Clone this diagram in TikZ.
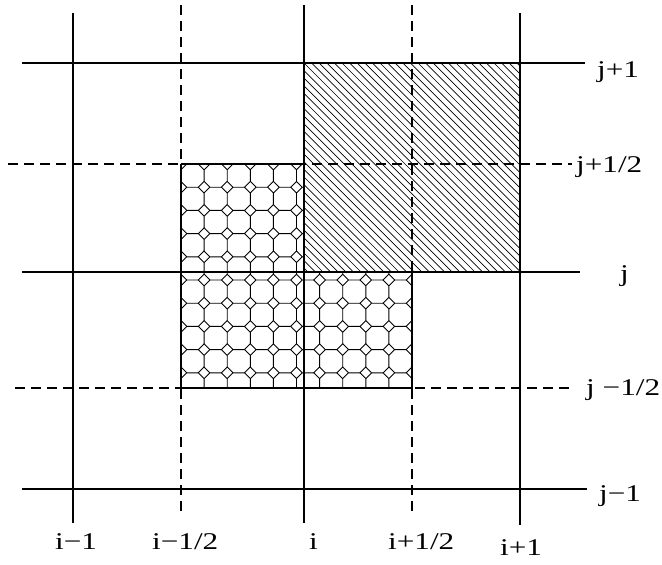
\documentclass[tikz,border=0pt]{standalone}
\usepackage{fontspec}
\setmainfont{Liberation Serif}
\newcommand\widetext[1]{\scalebox{1.3}[1]{#1}}
\begin{document}
\begin{tikzpicture}[x=1pt,y=-1pt,
  gridline/.style={line width=1.1pt,black},
  halfline/.style={line width=1.1pt,black,dash pattern=on 10pt off 6pt},
  border/.style={line width=1.3pt,black},
  oct/.style={line width=0.9pt,black},
  hatch/.style={line width=0.65pt,black},
  lab/.style={anchor=base west,inner sep=0pt,font=\fontsize{24}{28}\selectfont}]
\useasboundingbox (0,0) rectangle (662,565);

% octagon pattern region
\begin{scope}
\clip (181,164) -- (304,164) -- (304,272) -- (412,272) -- (412,388) -- (181,388) -- cycle;
\foreach \k in {0,...,10}{
  \foreach \m in {0,...,10}{
    \pgfmathsetmacro\cx{181+23.1*\k}
    \pgfmathsetmacro\cy{164+23.2*\m}
    \draw[oct] (\cx-5.8,\cy) -- (\cx,\cy-5.8) -- (\cx+5.8,\cy) -- (\cx,\cy+5.8) -- cycle
      (\cx+5.8,\cy) -- (\cx+17.3,\cy)
      (\cx,\cy+5.8) -- (\cx,\cy+17.4);
  }
}
\end{scope}

% hatched region
\begin{scope}
\clip (304,63) rectangle (520,272);
\foreach \k in {-30,...,30}{
  \draw[hatch] ({241+7.6*\k},0) -- ({241+7.6*\k+600},600);
}
\end{scope}

% grid lines
\coordinate (h1a) at (22,63);   \coordinate (h1b) at (585,63);
\coordinate (h2a) at (22,272);  \coordinate (h2b) at (580,272);
\coordinate (h3a) at (22,489);  \coordinate (h3b) at (587,489);
\coordinate (d1a) at (8,164);   \coordinate (d1b) at (572,164);
\coordinate (d2a) at (15,388);  \coordinate (d2b) at (570,388);
\coordinate (v1a) at (73,13);   \coordinate (v1b) at (73,523);
\coordinate (v2a) at (304,5);   \coordinate (v2b) at (304,523);
\coordinate (v3a) at (520,13);  \coordinate (v3b) at (520,525);
\coordinate (e1a) at (181,5);   \coordinate (e1b) at (181,517);
\coordinate (e2a) at (412,5);   \coordinate (e2b) at (412,517);

\draw[gridline] (h1a) -- (h1b) (h2a) -- (h2b) (h3a) -- (h3b)
                (v1a) -- (v1b) (v2a) -- (v2b) (v3a) -- (v3b);
\draw[halfline] (d1a) -- (d1b) (d2a) -- (d2b) (e1a) -- (e1b) (e2a) -- (e2b);

% borders of the octagon region
\draw[border] (181,164) -- (304,164) (181,164) -- (181,388) -- (412,388) -- (412,272);

% labels
\node[lab] (lj1)  at (597,77)  {\widetext{j+1}};
\node[lab] (lj12) at (576,172) {\widetext{j+1/2}};
\node[lab] (lj)   at (620,281) {\widetext{j}};
\node[lab] (ljm12) at (586,395) {\widetext{j −1/2}};
\node[lab] (ljm1) at (599,501) {\widetext{j−1}};
\node[lab] (lim1) at (55,549)  {\widetext{i−1}};
\node[lab] (lim12) at (152,549) {\widetext{i−1/2}};
\node[lab] (li)   at (309,549) {\widetext{i}};
\node[lab] (li12) at (388,549) {\widetext{i+1/2}};
\node[lab] (li1)  at (500,555) {\widetext{i+1}};
\end{tikzpicture}
\end{document}
